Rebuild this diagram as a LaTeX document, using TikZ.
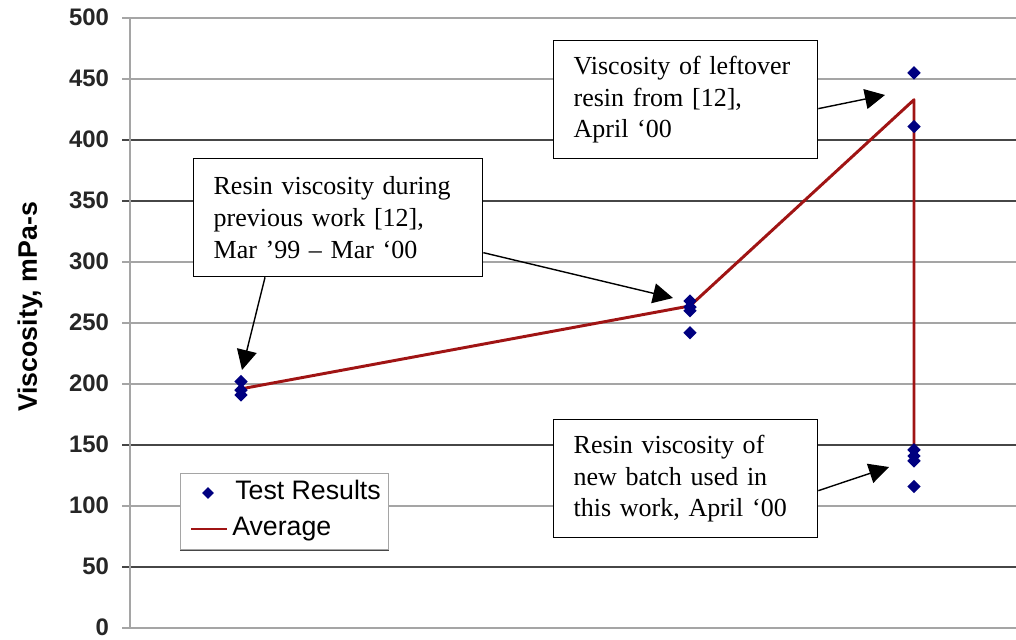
\documentclass[tikz,border=0pt]{standalone}
\usepackage{fontspec}
\setmainfont{Liberation Serif}
\setsansfont{Liberation Sans}
\usepackage{tikz}
\usetikzlibrary{arrows.meta, shapes.geometric, positioning}

\definecolor{navyblue}{RGB}{0,0,128}
\definecolor{avgred}{RGB}{160,20,20}
\definecolor{gridlight}{RGB}{165,165,165}
\definecolor{griddark}{RGB}{70,70,70}

\begin{document}
\begin{tikzpicture}[x=0.025cm, y=0.025cm, >={Triangle[length=0.5cm,width=0.5cm]},
    declare function={vy(\v)=11+1.22*\v;}]
  \tikzstyle{callout}=[draw=black, line width=0.9pt, fill=white, align=left, anchor=north west,
    inner xsep=0.5cm, inner ysep=0pt, minimum height=2.95cm,
    font=\fontsize{18.5pt}{22.5pt}\selectfont]
  \tikzstyle{pointer}=[->, draw=black, line width=1pt]
  \tikzstyle{dot}=[diamond, fill=navyblue, inner sep=0pt, minimum size=0.34cm]
  \tikzstyle{ticklabel}=[anchor=east, text=black!85, font=\sffamily\bfseries\fontsize{17pt}{20pt}\selectfont]
  \tikzstyle{avgline}=[draw=avgred, line width=2.1pt, line join=round]
  \useasboundingbox (0,0) rectangle (1016,639);

  % grid and axis
  \foreach \v/\c in {0/gridlight, 50/griddark, 100/gridlight, 150/griddark, 200/gridlight,
                     250/gridlight, 300/gridlight, 350/griddark, 400/griddark, 450/gridlight, 500/gridlight} {
    \draw[\c, line width=1.3pt] (122,{vy(\v)}) -- (1016,{vy(\v)});
    \node[ticklabel] (tick\v) at (114,{vy(\v)+1}) {\v};
  }
  \draw[gridlight, line width=1.3pt] (130,{vy(0)}) -- (130,{vy(500)});
  \node[rotate=90, font=\sffamily\bfseries\fontsize{19pt}{22pt}\selectfont] (ytitle) at (30,332) {Viscosity, mPa-s};

  % averages
  \draw[avgline] (241,{vy(196)}) -- (690,{vy(264)}) -- (914,{vy(433)}) -- (914,{vy(134)});

  % test results
  \foreach \px/\pv [count=\i] in {241/202, 241/195, 241/191, 690/268, 690/263, 690/260, 690/242,
                                  914/455, 914/411, 914/146, 914/141, 914/137, 914/116}
    \node[dot] (pt\i) at (\px,{vy(\pv)}) {};

  % legend
  \node[draw=gridlight, line width=1pt, fill=white, anchor=north west, minimum width=5.2cm,
        minimum height=1.9cm, inner sep=0pt] (legend) at (180,166) {};
  \draw[griddark, line width=1.3pt] (legend.south west) -- (legend.south east);
  \node[dot, minimum size=0.3cm] (keydot) at (208,146) {};
  \node[anchor=base west, inner sep=0pt, font=\sffamily\fontsize{19pt}{22pt}\selectfont] (keytest) at (235,140) {Test Results};
  \draw[avgline] (191,110) -- (227,110);
  \node[anchor=base west, inner sep=0pt, font=\sffamily\fontsize{19pt}{22pt}\selectfont] (keyavg) at (232,104) {Average};

  % callouts
  \node[callout, text width=6.225cm] (prevwork) at (193,481) {Resin viscosity during\\previous work [12],\\Mar ’99 – Mar ‘00};
  \node[callout, text width=5.6cm] (leftover) at (553,599) {Viscosity of leftover\\resin from [12],\\April ‘00};
  \node[callout, text width=5.6cm] (newbatch) at (553,220) {Resin viscosity of\\new batch used in\\this work, April ‘00};

  \coordinate (tipfirst) at (242,269);
  \coordinate (tipsecond) at (673,341);
  \coordinate (tipold) at (885,544);
  \coordinate (tipnew) at (889,172);

  \path ([xshift=1.8cm]prevwork.south west) edge[pointer] (tipfirst);
  \path ([yshift=-0.875cm]prevwork.east) edge[pointer] (tipsecond);
  \path ([yshift=-0.225cm]leftover.east) edge[pointer] (tipold);
  \path ([yshift=-0.3cm]newbatch.east) edge[pointer] (tipnew);
\end{tikzpicture}
\end{document}
